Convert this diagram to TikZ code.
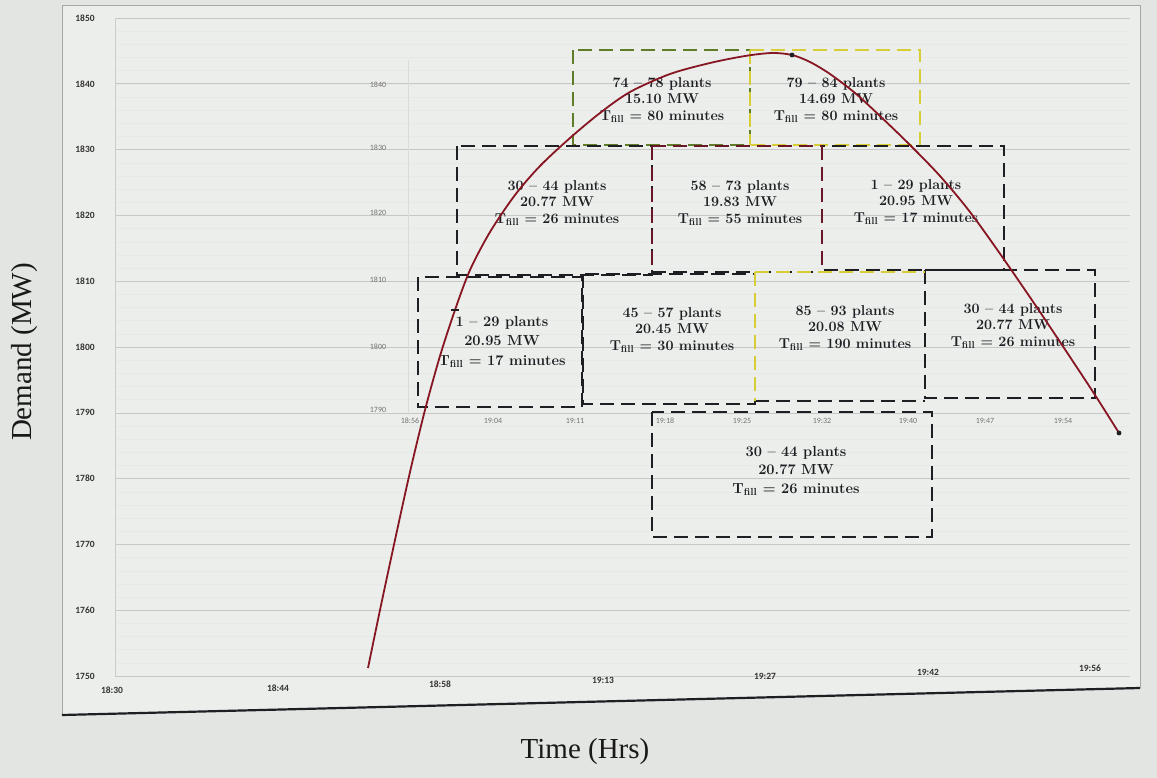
\documentclass[tikz,border=0pt]{standalone}
\usepackage{fontspec}
\newfontfamily\timesfont{Liberation Serif}
\newfontfamily\tickfont{Carlito}
\definecolor{bgpaper}{RGB}{226,229,225}
\definecolor{plotbg}{RGB}{236,238,235}
\definecolor{curvered}{RGB}{135,22,35}
\definecolor{boxgreen}{RGB}{95,125,40}
\definecolor{boxyellow}{RGB}{215,205,55}
\definecolor{boxmaroon}{RGB}{105,22,40}
\definecolor{inkdark}{RGB}{30,30,35}
\begin{document}
\begin{tikzpicture}[x=1pt,y=-1pt,
  dbox/.style={draw=inkdark, line width=2.3pt, dash pattern=on 14pt off 7pt},
  gbox/.style={draw=boxgreen, line width=2pt, dash pattern=on 14pt off 7pt},
  ybox/.style={draw=boxyellow, line width=2pt, dash pattern=on 14pt off 7pt},
  mbox/.style={draw=boxmaroon, line width=2.3pt, dash pattern=on 14pt off 7pt},
  boxtext/.style={font=\bfseries\fontsize{14.3}{16.5}\selectfont, align=center, text=inkdark},
  bigtext/.style={font=\bfseries\fontsize{14.6}{19.5}\selectfont, align=center, text=inkdark},
  tick/.style={font=\tickfont\bfseries\fontsize{9.5}{11}\selectfont, text=black!80},
  ghost/.style={font=\tickfont\fontsize{8}{9}\selectfont, text=black!55},
  grid major/.style={draw=black!22, line width=0.6pt},
  grid minor/.style={draw=black!9, line width=0.4pt},
  curve/.style={draw=curvered, line width=1.8pt},
  dot/.style={circle, fill=inkdark, inner sep=1.7pt},
  title/.style={font=\timesfont\fontsize{29}{32}\selectfont, text=black!90}]
\useasboundingbox (0,0) rectangle (1157,778);
\fill[bgpaper] (0,0) rectangle (1157,778);
% frame
\fill[plotbg] (62,5) -- (1140,5) -- (1140,688) -- (62,715) -- cycle;
\draw[black!35, line width=0.6pt] (62,715) -- (62,5) -- (1140,5) -- (1140,688);
\draw[inkdark, line width=2.2pt] (62,715) -- (1140,688);
% grid
\foreach \v in {1750,1752,...,1850} {
  \draw[grid minor] (115,{18+(1850-\v)*6.58}) -- (1130,{18+(1850-\v)*6.58});
}
\foreach \v in {1750,1760,...,1850} {
  \draw[grid major] (115,{18+(1850-\v)*6.58}) -- (1130,{18+(1850-\v)*6.58});
  \node[tick] at (85,{18+(1850-\v)*6.58}) {\v};
}
\draw[black!20, line width=0.6pt] (115,18) -- (115,676);
\draw[black!14, line width=0.5pt] (408,60) -- (408,415);
% outer x tick labels
\node[tick] (t1) at (112,690) {18:30};
\node[tick] (t2) at (278,688) {18:44};
\node[tick] (t3) at (440,684) {18:58};
\node[tick] (t4) at (603,680) {19:13};
\node[tick] (t5) at (765,676) {19:27};
\node[tick] (t6) at (928,672) {19:42};
\node[tick] (t7) at (1090,668) {19:56};
% ghost inner axis labels
\node[ghost] (g1) at (378,85) {1840};
\node[ghost] (g2) at (378,148) {1830};
\node[ghost] (g3) at (378,213) {1820};
\node[ghost] (g4) at (378,280) {1810};
\node[ghost] (g5) at (378,347) {1800};
\node[ghost] (g6) at (378,410) {1790};
\node[ghost] (h1) at (410,421) {18:56};
\node[ghost] (h2) at (493,421) {19:04};
\node[ghost] (h3) at (575,421) {19:11};
\node[ghost] (h4) at (665,421) {19:18};
\node[ghost] (h5) at (742,421) {19:25};
\node[ghost] (h6) at (822,421) {19:32};
\node[ghost] (h7) at (908,421) {19:40};
\node[ghost] (h8) at (985,421) {19:47};
\node[ghost] (h9) at (1063,421) {19:54};
% top row boxes
\draw[gbox] (573,50) rectangle (750,145);
\draw[ybox] (750,50) -- (920,50) -- (920,145) -- (750,145);
\draw[ybox] (750,50) -- (750,145);
% middle row
\draw[dbox] (457,146) rectangle (652,275);
\draw[dbox] (822,146) rectangle (1004,270);
\draw[mbox] (652,146) -- (822,146);
\draw[mbox] (652,146) -- (652,272);
\draw[mbox] (822,146) -- (822,270);
\draw[dbox] (652,272) -- (822,272);
% bottom row
\draw[dbox] (418,277) rectangle (582,407);
\draw[dbox] (583,274) rectangle (755,404);
\draw[dbox] (925,270) rectangle (1095,398);
\draw[dbox] (755,401) -- (925,401);
\draw[ybox] (755,272) -- (755,401);
\draw[ybox] (755,272) -- (925,272);
% lower box
\draw[dbox] (652,412) rectangle (932,537);
% texts
\node[boxtext] (b1) at (662,100) {74 – 78 plants\\15.10 MW\\T\textsubscript{fill} = 80 minutes};
\node[boxtext] (b2) at (836,100) {79 – 84 plants\\14.69 MW\\T\textsubscript{fill} = 80 minutes};
\node[boxtext] (b3) at (557,203) {30 – 44 plants\\20.77 MW\\T\textsubscript{fill} = 26 minutes};
\node[boxtext] (b4) at (740,203) {58 – 73 plants\\19.83 MW\\T\textsubscript{fill} = 55 minutes};
\node[boxtext] (b5) at (916,202) {1 – 29 plants\\20.95 MW\\T\textsubscript{fill} = 17 minutes};
\node[bigtext] (b6) at (502,342) {1 – 29 plants\\20.95 MW\\T\textsubscript{fill} = 17 minutes};
\node[boxtext] (b7) at (672,330) {45 – 57 plants\\20.45 MW\\T\textsubscript{fill} = 30 minutes};
\node[boxtext] (b8) at (845,328) {85 – 93 plants\\20.08 MW\\T\textsubscript{fill} = 190 minutes};
\node[boxtext] (b9) at (1013,326) {30 – 44 plants\\20.77 MW\\T\textsubscript{fill} = 26 minutes};
\node[bigtext, font=\bfseries\fontsize{14.6}{18.5}\selectfont] (b10) at (796,471) {30 – 44 plants\\20.77 MW\\T\textsubscript{fill} = 26 minutes};
% curve
\draw[curve] plot[smooth, tension=0.5] coordinates {(368,668) (380,610) (395,540) (410,472) (425,410) (440,356) (455,310) (470,270) (490,232) (515,195) (540,166) (570,138) (600,113) (630,92) (670,74) (710,63) (745,56) (772,53) (792,55) (810,62) (830,74) (855,93) (880,116) (910,145) (940,176) (970,212) (1003,258) (1040,312) (1070,357) (1095,395) (1119,433)};
\node[dot] (peak) at (792,55) {};
\node[dot] (endpt) at (1119,433) {};
\node[fill=inkdark, minimum width=8pt, minimum height=2.2pt, inner sep=0pt] (mk) at (455,310) {};
% axis titles
\node[title, rotate=90] (ylab) at (25,352) {Demand (MW)};
\node[title] (xlab) at (585,752) {Time (Hrs)};
\end{tikzpicture}
\end{document}
